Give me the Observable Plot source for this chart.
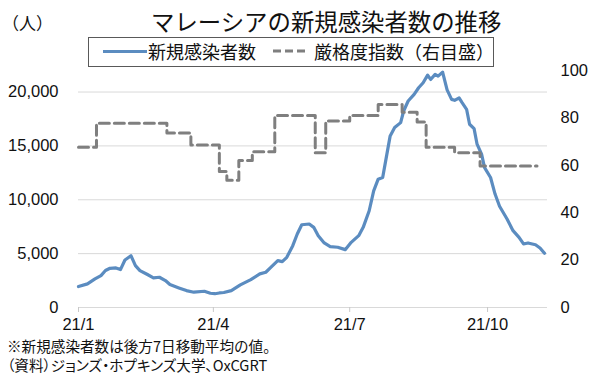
<!DOCTYPE html>
<html>
<head>
<meta charset="utf-8">
<script src="https://cdn.jsdelivr.net/npm/d3@7"></script>
<script src="https://cdn.jsdelivr.net/npm/@observablehq/plot@0.6"></script>
<style>
  body { margin: 0; background: #fff; }
  #wrap { position: relative; width: 600px; height: 374px; overflow: hidden; background: #fff; }
  #wrap svg { position: absolute; left: 0; top: 0; }
  .t { position: absolute; white-space: nowrap; font-family: "Noto Sans CJK JP", sans-serif; color: #111; line-height: 1; }
</style>
</head>
<body>
<div id="wrap">
  <div id="chart"></div>
  <div class="t" style="left:2px; top:14px; font-size:17px;">（人）</div>
  <div class="t" style="left:151px; top:10px; font-size:23.4px;">マレーシアの新規感染者数の推移</div>
  <div style="position:absolute; left:88px; top:37px; width:404px; height:28px; border:1px solid #595959; background:#fff;"></div>
  <div style="position:absolute; left:103px; top:50px; width:44px; height:3px; background:#5b8cc0;"></div>
  <div class="t" style="left:148px; top:42px; font-size:18px;">新規感染者数</div>
  <svg style="position:absolute; left:273px; top:48px;" width="34" height="6"><line x1="0" y1="3" x2="34" y2="3" stroke="#7f7f7f" stroke-width="3" stroke-dasharray="8,4"/></svg>
  <div class="t" style="left:314px; top:42px; font-size:18px;">厳格度指数（右目盛）</div>
  <div class="t" style="left:7px; top:338.5px; font-size:14.6px;">※新規感染者数は後方7日移動平均の値。</div>
  <div class="t" style="left:7px; top:357.5px; font-size:14.6px; font-feature-settings:'palt';">（資料）ジョンズ・ホプキンズ大学、OxCGRT</div>
</div>
<script>
// New cases (7-day moving average), persons
const caseDates = [
  "2021-01-01","2021-01-07","2021-01-12","2021-01-16","2021-01-19","2021-01-22","2021-01-26","2021-01-29",
  "2021-02-01","2021-02-05","2021-02-08","2021-02-11","2021-02-16","2021-02-20","2021-02-24","2021-02-28",
  "2021-03-03","2021-03-09","2021-03-14","2021-03-19","2021-03-26","2021-03-30","2021-04-02","2021-04-05",
  "2021-04-08","2021-04-13","2021-04-19","2021-04-26","2021-05-02","2021-05-06","2021-05-09","2021-05-14",
  "2021-05-17","2021-05-20","2021-05-24","2021-05-27","2021-05-30","2021-06-04","2021-06-07","2021-06-10",
  "2021-06-14","2021-06-18","2021-06-23","2021-06-28","2021-07-02","2021-07-07","2021-07-10","2021-07-14",
  "2021-07-17","2021-07-20","2021-07-23","2021-07-25","2021-07-28","2021-07-31","2021-08-04","2021-08-06",
  "2021-08-09","2021-08-13","2021-08-16","2021-08-19","2021-08-22","2021-08-24","2021-08-27","2021-08-29",
  "2021-09-01","2021-09-04","2021-09-07","2021-09-09","2021-09-12","2021-09-14","2021-09-17","2021-09-19",
  "2021-09-22","2021-09-24","2021-09-27","2021-09-29","2021-10-03","2021-10-06","2021-10-09","2021-10-14",
  "2021-10-18","2021-10-22","2021-10-25","2021-10-28","2021-11-02","2021-11-05","2021-11-08"
];
const caseValues = [
  1950,2190,2650,2960,3430,3640,3670,3520,
  4410,4810,3890,3430,3060,2750,2810,2500,
  2130,1820,1570,1420,1510,1320,1280,1350,
  1390,1570,2100,2590,3120,3270,3670,4350,
  4260,4660,5740,6820,7680,7750,7440,6670,
  5990,5650,5590,5370,6050,6670,7440,8980,
  10830,11910,12070,13610,15930,16700,17160,18240,
  19170,19790,20400,20860,21570,21170,21640,21480,
  21850,20200,19320,19230,19450,19010,18400,17010,
  16600,15160,14230,12990,12070,10530,9400,8210,
  7130,6510,5900,5990,5830,5530,5030
];
// Stringency index (right axis), step changes
const stringencyDates = [
  "2021-01-01","2021-01-13","2021-03-01","2021-03-17","2021-04-05","2021-04-10","2021-04-18","2021-04-27",
  "2021-05-12","2021-06-08","2021-06-15","2021-07-01","2021-07-20","2021-08-05","2021-08-15","2021-08-21",
  "2021-09-09","2021-09-26","2021-11-03"
];
const stringencyValues = [
  67.59,77.78,73.61,68.52,57.41,53.70,62.04,65.74,
  81.02,65.28,78.70,81.02,85.65,82.41,78.24,67.59,
  65.28,59.72,59.72
];
const leftTicks = [0, 5000, 10000, 15000, 20000];
const rightTicks = [0, 20, 40, 60, 80, 100];
const xTickDates = ["2021-01-01","2021-04-01","2021-07-01","2021-10-01"];
const xTickLabels = ["21/1","21/4","21/7","21/10"];
const leftMax = 22000, rightMax = 100;
const ratio = leftMax / rightMax;

const cases = caseDates.map((d, i) => ({date: new Date(d), value: caseValues[i]}));
const stringency = stringencyDates.map((d, i) => ({date: new Date(d), value: stringencyValues[i]}));
const xTicks = xTickDates.map(d => new Date(d));

const chart = Plot.plot({
  width: 600,
  height: 374,
  marginLeft: 78,
  marginRight: 53,
  marginTop: 70,
  marginBottom: 67,
  style: {fontFamily: "'Liberation Sans', Arial, sans-serif", fontSize: "16.5px", color: "#111", background: "transparent", overflow: "visible"},
  x: {type: "utc", domain: [new Date("2021-01-01"), new Date("2021-11-10")]},
  y: {domain: [0, leftMax], label: null},
  marks: [
    Plot.ruleY(leftTicks, {stroke: "#d9d9d9", strokeWidth: 1}),
    Plot.axisY({anchor: "left", ticks: leftTicks, tickFormat: d3.format(","), tickSize: 0, tickPadding: 20, label: null}),
    Plot.axisY({anchor: "right", ticks: rightTicks.map(v => v * ratio), tickFormat: d => String(Math.round(d / ratio)), tickSize: 0, tickPadding: 13, label: null}),
    Plot.axisX({ticks: xTicks, tickFormat: d => xTickLabels[xTicks.findIndex(t => +t === +d)], tickSize: 5, tickPadding: 6, stroke: "#c8c8c8", fill: "#111", fontSize: "16.5px", label: null}),
    Plot.line(cases, {x: "date", y: "value", stroke: "#5b8cc0", strokeWidth: 3.2, strokeLinejoin: "round"}),
    Plot.line(stringency, {x: "date", y: d => d.value * ratio, stroke: "#7f7f7f", strokeWidth: 3, strokeDasharray: "10,5", curve: "step-after"})
  ]
});
document.getElementById("chart").appendChild(chart);
</script>
</body>
</html>
